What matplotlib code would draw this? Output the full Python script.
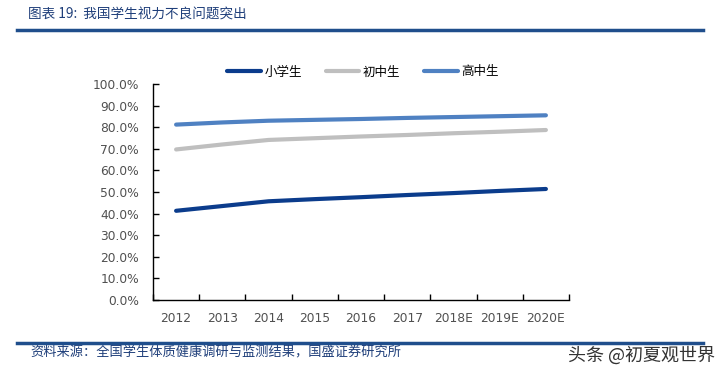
import matplotlib.pyplot as plt
from matplotlib.lines import Line2D

plt.rcParams['font.family'] = ['Noto Sans CJK SC', 'DejaVu Sans']

# 数据
years = ['2012', '2013', '2014', '2015', '2016', '2017', '2018E', '2019E', '2020E']
primary = [0.413, 0.435, 0.457, 0.467, 0.476, 0.486, 0.495, 0.505, 0.514]
junior = [0.697, 0.720, 0.741, 0.749, 0.757, 0.764, 0.772, 0.779, 0.787]
senior = [0.812, 0.822, 0.830, 0.834, 0.838, 0.843, 0.847, 0.851, 0.855]
names = ['小学生', '初中生', '高中生']
colors = ['#0B3C8C', '#BFBFBF', '#4F81C2']

fig = plt.figure(figsize=(7.27, 3.76), dpi=100)
W, H = 727, 376
ax = fig.add_axes([153 / W, 1 - 300 / H, 416 / W, 216 / H])

x = list(range(len(years)))
for vals, c, n in zip([primary, junior, senior], colors, names):
    ax.plot(x, vals, color=c, lw=3, solid_capstyle='round', label=n)

ax.set_xlim(-0.5, len(years) - 0.5)
ax.set_ylim(0, 1.0)
ax.set_yticks([i / 10 for i in range(11)])
ax.set_yticklabels([f'{i * 10:.1f}%' for i in range(11)], family='DejaVu Sans')
ax.set_xticks(x)
ax.set_xticklabels(years, family='DejaVu Sans')
ax.set_xticks([i - 0.5 for i in range(len(years) + 1)], minor=True)
ax.tick_params(axis='x', which='major', length=0, pad=9, labelsize=8.8, labelcolor='#505050')
ax.tick_params(axis='x', which='minor', direction='in', length=4, width=1)
ax.tick_params(axis='y', direction='in', length=4, width=1, pad=10, labelsize=8.8, labelcolor='#505050')
for s in ['top', 'right']:
    ax.spines[s].set_visible(False)
for s in ['left', 'bottom']:
    ax.spines[s].set_linewidth(1)
    ax.spines[s].set_color('black')

handles = [Line2D([0], [0], color=c, lw=3, solid_capstyle='round') for c in colors]
fig.legend(handles, names, loc='center', bbox_to_anchor=(363 / W, 1 - 72 / H), ncol=3,
           frameon=False, fontsize=9, handlelength=2.7, columnspacing=1.9, handletextpad=0.3)

# 标题与来源
fig.text(28 / W, 1 - 15 / H, '图表 19:  我国学生视力不良问题突出', fontsize=9.8, color='#1F3F7A',
         style='italic', va='center')
fig.add_artist(Line2D([17 / W, 703 / W], [1 - 30 / H, 1 - 30 / H], color='#1F4E8C', lw=2.5))
fig.add_artist(Line2D([17 / W, 703 / W], [1 - 343 / H, 1 - 343 / H], color='#1F4E8C', lw=2.5))
fig.text(30 / W, 1 - 353 / H, '资料来源：全国学生体质健康调研与监测结果，国盛证券研究所', fontsize=9.5,
         color='#1F3F7A', style='italic', va='center')
fig.text(715 / W, 1 - 355 / H, '头条 @初夏观世界', fontsize=13, color='#333333', ha='right', va='center')

fig.savefig('out.png', dpi=100)
